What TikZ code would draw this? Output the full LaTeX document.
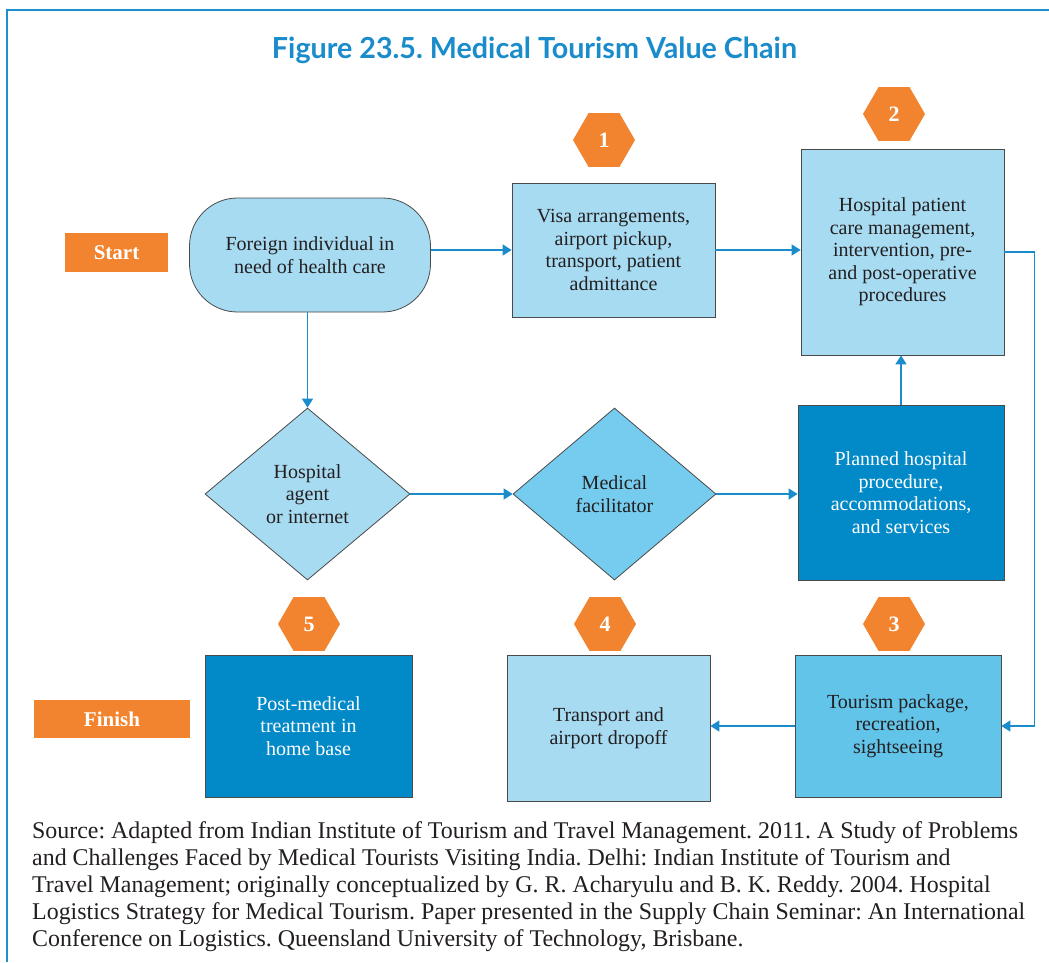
\documentclass[tikz,border=0pt]{standalone}
\usepackage{fontspec}
\usepackage{graphicx}
\setmainfont{Liberation Serif}
\newfontfamily\titlefont{Lato}
\usetikzlibrary{shapes.geometric,arrows.meta}
\definecolor{frameblue}{HTML}{1E8FCF}
\definecolor{arrowblue}{HTML}{1A8BCB}
\definecolor{lightbox}{HTML}{A7DBF2}
\definecolor{midbox}{HTML}{63C4EA}
\definecolor{facbox}{HTML}{76CCEE}
\definecolor{darkbox}{HTML}{0289C7}
\definecolor{orangeC}{HTML}{F2842F}
\definecolor{txt}{HTML}{231F20}
\definecolor{boxline}{HTML}{4A4A4A}
\definecolor{titleblue}{HTML}{1A8CCB}
\frenchspacing
\newlength{\srcwidth}
\newcommand{\srcscale}{1}
\AtBeginDocument{%
  \frenchspacing
  \settowidth{\srcwidth}{\fontsize{24}{27}\selectfont Source: Adapted from Indian Institute of Tourism and Travel Management. 2011. A Study of Problems}%
  \pgfmathsetmacro{\srcscale}{986/\srcwidth}%
  \xdef\srcscale{\srcscale}}
\newcommand{\srcln}[1]{\scalebox{\srcscale}[1]{#1}}
\begin{document}
\begin{tikzpicture}[x=1pt,y=-1pt,
  every node/.style={font=\fontsize{20}{22.5}\selectfont, text=txt},
  box/.style={draw=boxline, line width=0.8pt, align=center, inner sep=0pt},
  lightrect/.style={box, fill=lightbox},
  midrect/.style={box, fill=midbox},
  darkrect/.style={box, fill=darkbox, text=white},
  decision/.style={box, diamond, inner sep=0pt},
  hexnum/.style={regular polygon, regular polygon sides=6, minimum size=62pt, inner sep=0pt,
    fill=orangeC, draw=none, text=white, font=\fontsize{22}{24}\selectfont\bfseries},
  tag/.style={fill=orangeC, draw=none, text=white, inner sep=0pt, font=\fontsize{21}{24}\selectfont\bfseries},
  arr/.style={draw=arrowblue, line width=1.6pt, -{Triangle[length=9pt,width=11pt]}},
  srcline/.style={anchor=base west, inner sep=0pt, font=\fontsize{24}{27}\selectfont, text=txt}
]
\useasboundingbox (0,0) rectangle (1049,962);
\fill[white] (0,0) rectangle (1049,962);

% frame
\coordinate (fbl) at (7,962);
\coordinate (ftl) at (7,10);
\coordinate (ftr) at (1049,10);
\draw[frameblue, line width=2pt] (fbl) -- (ftl) -- (ftr);

% title
\node[anchor=base, inner sep=0pt, text=titleblue, font=\titlefont\bfseries\fontsize{29}{32}\selectfont] (title) at (534.5,58)
  {\resizebox{525pt}{\height}{Figure 23.5. Medical Tourism Value Chain}};

% labels
\node[tag, minimum width=103pt, minimum height=39pt] (start) at (116.5,252.5) {Start};
\node[tag, minimum width=156pt, minimum height=38pt] (finish) at (112,719) {Finish};

% boxes
\node[lightrect, rounded corners=48pt, minimum width=241pt, minimum height=114pt] (foreign) at (310,255)
  {Foreign individual in\\need of health care};
\node[lightrect, minimum width=203pt, minimum height=134pt] (visa) at (613.5,250)
  {Visa arrangements,\\airport pickup,\\transport, patient\\admittance};
\node[lightrect, minimum width=203pt, minimum height=206pt] (hosp) at (902.5,252)
  {Hospital patient\\care management,\\intervention, pre-\\and post-operative\\procedures};
\node[decision, fill=lightbox, minimum width=205pt, minimum height=172pt] (agent) at (307.5,494)
  {Hospital\\agent\\or internet};
\node[decision, fill=facbox, minimum width=203pt, minimum height=172pt] (facil) at (614.5,494)
  {Medical\\facilitator};
\node[darkrect, minimum width=206pt, minimum height=175pt] (planned) at (901,492.5)
  {Planned hospital\\procedure,\\accommodations,\\and services};
\node[midrect, minimum width=206pt, minimum height=142pt] (tour) at (898,726)
  {Tourism package,\\recreation,\\sightseeing};
\node[lightrect, minimum width=203pt, minimum height=146pt] (trans) at (608.5,728)
  {Transport and\\airport dropoff};
\node[darkrect, minimum width=207pt, minimum height=142pt] (post) at (308.5,726)
  {Post-medical\\treatment in\\home base};

% hexagons
\node[hexnum] (h1) at (604,140) {1};
\node[hexnum] (h2) at (894,114) {2};
\node[hexnum] (h3) at (894,624) {3};
\node[hexnum] (h4) at (605,624) {4};
\node[hexnum] (h5) at (309,624) {5};

% connectors
\draw[arr] (foreign.east |- visa.west) -- (visa.west);
\draw[arr] (visa.east) -- (hosp.west |- visa.east);
\draw[arr] (hosp.east) -- ++(30,0) |- (tour.east);
\draw[arr] (tour.west) -- (trans.east |- tour.west);
\draw[arr] (foreign.south -| agent.north) -- (agent.north);
\draw[arr] (agent.east) -- (facil.west);
\draw[arr] (facil.east) -- (planned.west |- facil.east);
\draw[arr] (planned.north) -- (hosp.south -| planned.north);

% source
\node[srcline] (s1) at (32,838) {\srcln{Source: Adapted from Indian Institute of Tourism and Travel Management. 2011. A Study of Problems}};
\node[srcline] (s2) at (32,865) {\srcln{and Challenges Faced by Medical Tourists Visiting India. Delhi: Indian Institute of Tourism and}};
\node[srcline] (s3) at (32,892) {\srcln{Travel Management; originally conceptualized by G. R. Acharyulu and B. K. Reddy. 2004. Hospital}};
\node[srcline] (s4) at (32,919) {\srcln{Logistics Strategy for Medical Tourism. Paper presented in the Supply Chain Seminar: An International}};
\node[srcline] (s5) at (32,946) {\srcln{Conference on Logistics. Queensland University of Technology, Brisbane.}};
\end{tikzpicture}
\end{document}
